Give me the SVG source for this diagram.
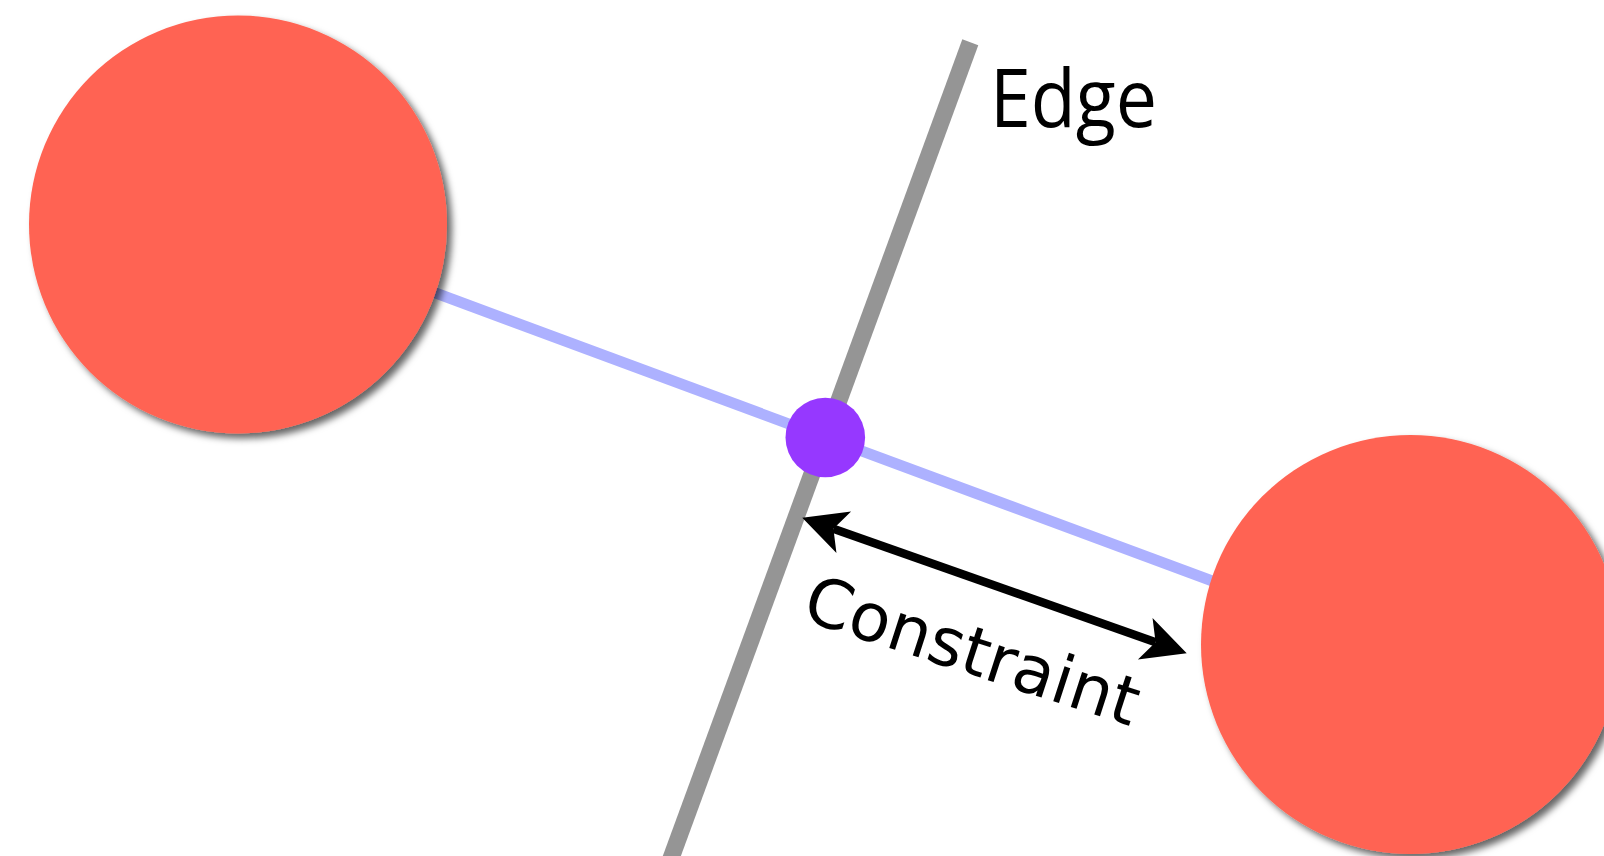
<svg xmlns="http://www.w3.org/2000/svg" width="1604" height="856" viewBox="0 0 1604 856">
  <style>
    .ball { fill: #ff6352; filter: url(#shadow); }
    .label { fill: #000000; }
  </style>
  <defs>
    <filter id="shadow" x="-20%" y="-20%" width="140%" height="140%">
      <feDropShadow dx="5" dy="5" stdDeviation="3.5" flood-color="#000000" flood-opacity="0.6"/>
    </filter>
    <marker id="head" markerUnits="userSpaceOnUse" orient="auto-start-reverse" refX="0" refY="0" markerWidth="100" markerHeight="100" overflow="visible">
      <path d="M33,0 L-11,-22 L0,0 L-11,22 Z" fill="#000000"/>
    </marker>
  </defs>
  <rect width="1604" height="856" fill="#ffffff"/>
  <g id="connectors">
    <line id="edge-line" x1="970.3" y1="42.2" x2="666.7" y2="870" stroke="#959595" stroke-width="17"/>
    <line id="link" x1="238" y1="219.6" x2="1410" y2="654.4" stroke="#adb1ff" stroke-width="11"/>
    <line id="constraint-arrow" x1="833.4" y1="528.7" x2="1155.6" y2="642.3" stroke="#000000" stroke-width="8.5" marker-start="url(#head)" marker-end="url(#head)"/>
  </g>
  <g id="node-left">
    <circle class="ball" cx="238" cy="224.5" r="209"/>
  </g>
  <g id="node-right">
    <circle class="ball" cx="1410.5" cy="644.5" r="209.5"/>
  </g>
  <g id="node-intersection">
    <circle cx="825.3" cy="437.5" r="39.8" fill="#9638ff"/>
  </g>
  <g id="label-edge">
    <text class="label" x="990" y="127" font-family="'Open Sans', 'Noto Sans', sans-serif" font-size="80" textLength="167" lengthAdjust="spacingAndGlyphs">Edge</text>
  </g>
  <g id="label-constraint">
    <text class="label" x="800" y="619" transform="rotate(18 800 619)" font-family="'DejaVu Sans', sans-serif" font-size="67">Constraint</text>
  </g>
</svg>
